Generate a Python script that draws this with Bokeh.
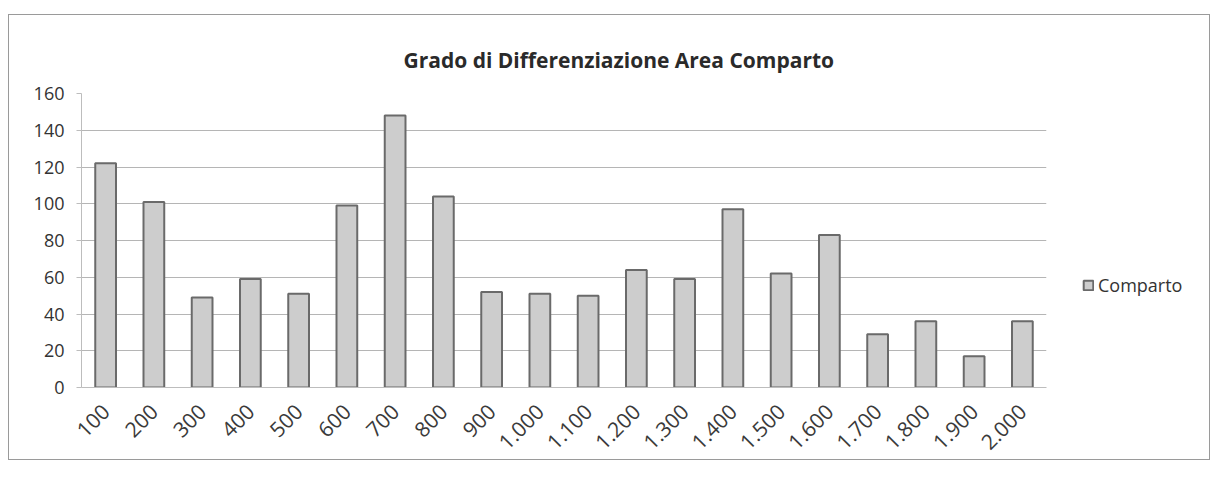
from bokeh.plotting import figure
from bokeh.models import ColumnDataSource, FixedTicker, Legend, LegendItem
from bokeh.embed import file_html
from bokeh.resources import INLINE
import math

categories = ["100", "200", "300", "400", "500", "600", "700", "800", "900", "1.000",
              "1.100", "1.200", "1.300", "1.400", "1.500", "1.600", "1.700", "1.800", "1.900", "2.000"]
comparto = [122, 101, 49, 59, 51, 99, 148, 104, 52, 51,
            50, 64, 59, 97, 62, 83, 29, 36, 17, 36]
y_ticks = [0, 20, 40, 60, 80, 100, 120, 140, 160]

FONT = "Open Sans"

src = ColumnDataSource(dict(cat=categories, val=comparto))

p = figure(x_range=categories, y_range=(0, 160),
           frame_width=965, frame_height=294,
           output_backend="svg", toolbar_location=None,
           title="Grado di Differenziazione Area Comparto",
           min_border_left=72, min_border_right=150, min_border_top=78, min_border_bottom=72)

p.styles = {"border": "1px solid #9a9a9a", "margin-left": "8px", "margin-top": "14px",
            "max-width": "1202px", "overflow": "hidden"}

p.title.align = "left"
p.title.offset = 322
p.title.text_font = FONT
p.title.text_font_size = "21px"
p.title.text_font_style = "bold"
p.title.text_color = "#2a2a2a"
p.title.standoff = 40

r = p.vbar(x="cat", top="val", width=0.43, source=src,
           fill_color="#cdcdcd", line_color="#6a6a6a", line_width=2)

p.x_range.range_padding = 0

p.yaxis.ticker = FixedTicker(ticks=y_ticks)
p.yaxis.major_label_text_font = FONT
p.yaxis.major_label_text_font_size = "18px"
p.yaxis.major_label_text_color = "#333333"
p.yaxis.axis_line_color = "#bdbdbd"
p.yaxis.major_tick_line_color = "#bdbdbd"
p.yaxis.major_tick_in = 0
p.yaxis.major_tick_out = 5
p.yaxis.minor_tick_line_color = None
p.yaxis.major_label_standoff = 12

p.xaxis.major_label_orientation = math.pi / 4
p.xaxis.major_label_text_font = FONT
p.xaxis.major_label_text_font_size = "21px"
p.xaxis.major_label_text_color = "#3a3a3a"
p.xaxis.axis_line_color = "#bdbdbd"
p.xaxis.major_tick_line_color = None
p.xaxis.major_label_standoff = 14

p.ygrid.grid_line_color = "#b5b5b5"
p.ygrid.grid_line_width = 1
p.xgrid.grid_line_color = None
p.outline_line_color = None

legend = Legend(items=[LegendItem(label="Comparto", renderers=[r])],
                location=(36, 90), border_line_color=None, background_fill_alpha=0,
                label_text_font=FONT, label_text_font_size="18px",
                label_text_color="#333333", glyph_width=12, glyph_height=12,
                label_standoff=4, padding=0, margin=0)
p.add_layout(legend, "right")

open("out.html", "w").write(file_html(p, INLINE))
